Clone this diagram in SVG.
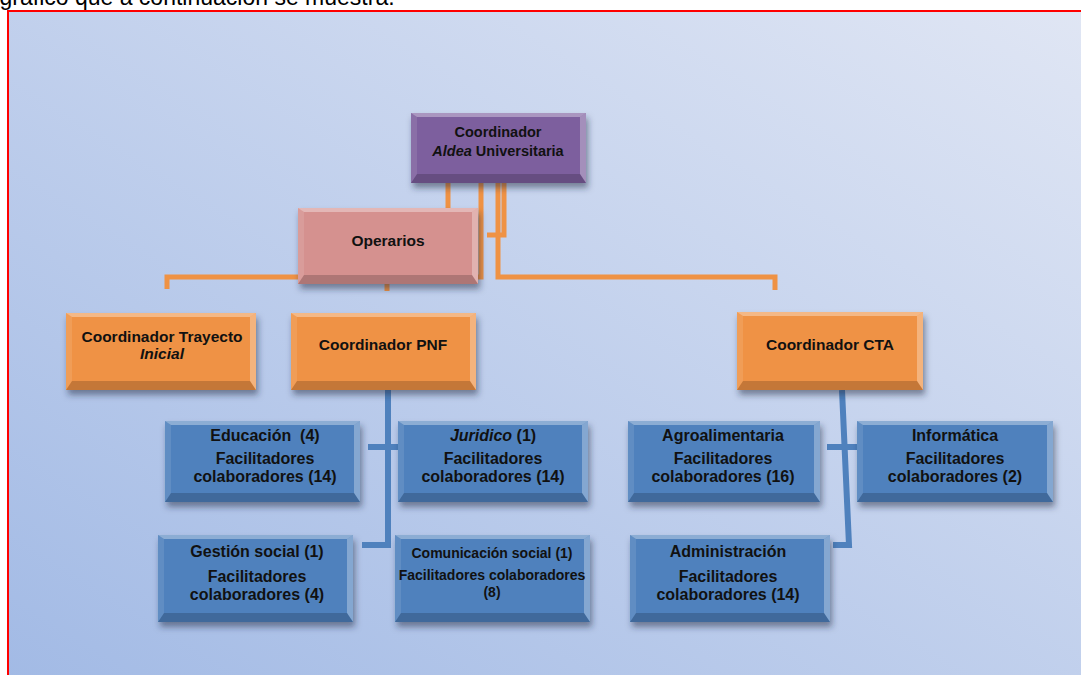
<svg xmlns="http://www.w3.org/2000/svg" width="1081" height="675" viewBox="0 0 1081 675">
<defs>
<linearGradient id="bg" x1="0" y1="1" x2="1" y2="0">
<stop offset="0" stop-color="#a2bae5"/>
<stop offset="1" stop-color="#e0e6f4"/>
</linearGradient>
<filter id="sh" x="-10%" y="-10%" width="125%" height="140%">
<feDropShadow dx="2" dy="5" stdDeviation="3" flood-color="#1a2540" flood-opacity="0.5"/>
</filter>
<style>
.t{font-family:"Liberation Sans",Arial,sans-serif;font-weight:bold;fill:#111;text-anchor:middle}
.s14{font-size:14.5px}
.s15{font-size:15.5px}
.s16{font-size:16px}
.s13{font-size:14px}
.i{font-style:italic}
.purple{fill:#7d5f9e}
.pink{fill:#d5918f}
.orange{fill:#ef9244}
.blue{fill:#4f81bd}
.bt{fill:#fff;opacity:.35}
.br{fill:#fff;opacity:.3}
.bb{fill:#000;opacity:.18}
.bl{fill:#fff;opacity:.1}
.co{fill:none;stroke:#ef9244;stroke-width:5}
.cb{fill:none;stroke:#4f81bd;stroke-width:6}
</style>
</defs>
<rect x="0" y="0" width="1081" height="675" fill="#fff"/>
<text x="-0.5" y="5" style="font-family:'Liberation Sans',Arial,sans-serif;font-size:23px;fill:#000">gráfico que a continuación se muestra.</text>
<rect x="8" y="11" width="1080" height="670" fill="url(#bg)" stroke="#f00" stroke-width="2"/>

<g id="connectors">
<path class="co" d="M448,183V208"/>
<path class="co" d="M167,289V277H481V183"/>
<path class="co" d="M498,183V277H775V290"/>
<path class="co" d="M504,183V235H487"/>
<path class="co" d="M387,284V291"/>
<path class="cb" d="M388,390V545H362"/>
<path class="cb" d="M368,447H400"/>
<path class="cb" d="M842,390L849,545H833"/>
<path class="cb" d="M827,447H860"/>
</g>

<g id="n-aldea">
<rect class="purple" x="411" y="113" width="175" height="70" filter="url(#sh)"/>
<path class="bt" d="M411,113H586L580,117H417Z"/>
<path class="br" d="M586,113V183L580,174V117Z"/>
<path class="bb" d="M411,183H586L580,174H417Z"/>
<path class="bl" d="M411,113V183L417,174V117Z"/>
<text class="t s14" x="498" y="137">Coordinador</text>
<text class="t s14" x="498" y="156"><tspan class="i">Aldea</tspan> Universitaria</text>
</g>

<g id="n-operarios">
<rect class="pink" x="298" y="208" width="180" height="76" filter="url(#sh)"/>
<path class="bt" d="M298,208H478L472,212H304Z"/>
<path class="br" d="M478,208V284L472,275V212Z"/>
<path class="bb" d="M298,284H478L472,275H304Z"/>
<path class="bl" d="M298,208V284L304,275V212Z"/>
<text class="t s15" x="388" y="246">Operarios</text>
</g>

<g id="n-trayecto">
<rect class="orange" x="66" y="313" width="190" height="77" filter="url(#sh)"/>
<path class="bt" d="M66,313H256L250,317H72Z"/>
<path class="br" d="M256,313V390L250,381V317Z"/>
<path class="bb" d="M66,390H256L250,381H72Z"/>
<path class="bl" d="M66,313V390L72,381V317Z"/>
<text class="t s15" x="162" y="342">Coordinador Trayecto</text>
<text class="t s15 i" x="162" y="359">Inicial</text>
</g>

<g id="n-pnf">
<rect class="orange" x="291" y="313" width="185" height="77" filter="url(#sh)"/>
<path class="bt" d="M291,313H476L470,317H297Z"/>
<path class="br" d="M476,313V390L470,381V317Z"/>
<path class="bb" d="M291,390H476L470,381H297Z"/>
<path class="bl" d="M291,313V390L297,381V317Z"/>
<text class="t s15" x="383" y="350">Coordinador PNF</text>
</g>

<g id="n-cta">
<rect class="orange" x="737" y="312" width="186" height="78" filter="url(#sh)"/>
<path class="bt" d="M737,312H923L917,316H743Z"/>
<path class="br" d="M923,312V390L917,381V316Z"/>
<path class="bb" d="M737,390H923L917,381H743Z"/>
<path class="bl" d="M737,312V390L743,381V316Z"/>
<text class="t s15" x="830" y="350">Coordinador CTA</text>
</g>

<g id="n-educacion">
<rect class="blue" x="165" y="421" width="195" height="81" filter="url(#sh)"/>
<path class="bt" d="M165,421H360L354,425H171Z"/>
<path class="br" d="M360,421V502L354,493V425Z"/>
<path class="bb" d="M165,502H360L354,493H171Z"/>
<path class="bl" d="M165,421V502L171,493V425Z"/>
<text class="t s16" x="265" y="441" xml:space="preserve">Educación  (4)</text>
<text class="t s16" x="265" y="464">Facilitadores</text>
<text class="t s16" x="265" y="482">colaboradores (14)</text>
</g>

<g id="n-juridico">
<rect class="blue" x="398" y="421" width="190" height="81" filter="url(#sh)"/>
<path class="bt" d="M398,421H588L582,425H404Z"/>
<path class="br" d="M588,421V502L582,493V425Z"/>
<path class="bb" d="M398,502H588L582,493H404Z"/>
<path class="bl" d="M398,421V502L404,493V425Z"/>
<text class="t s16" x="493" y="441"><tspan class="i">Juridico</tspan> (1)</text>
<text class="t s16" x="493" y="464">Facilitadores</text>
<text class="t s16" x="493" y="482">colaboradores (14)</text>
</g>

<g id="n-gestion">
<rect class="blue" x="158" y="535" width="195" height="87" filter="url(#sh)"/>
<path class="bt" d="M158,535H353L347,539H164Z"/>
<path class="br" d="M353,535V622L347,613V539Z"/>
<path class="bb" d="M158,622H353L347,613H164Z"/>
<path class="bl" d="M158,535V622L164,613V539Z"/>
<text class="t s16" x="257" y="557">Gestión social (1)</text>
<text class="t s16" x="257" y="582">Facilitadores</text>
<text class="t s16" x="257" y="600">colaboradores (4)</text>
</g>

<g id="n-comunicacion">
<rect class="blue" x="395" y="535" width="195" height="87" filter="url(#sh)"/>
<path class="bt" d="M395,535H590L584,539H401Z"/>
<path class="br" d="M590,535V622L584,613V539Z"/>
<path class="bb" d="M395,622H590L584,613H401Z"/>
<path class="bl" d="M395,535V622L401,613V539Z"/>
<text class="t s13" x="492" y="558">Comunicación social (1)</text>
<text class="t s13" x="492" y="580">Facilitadores colaboradores</text>
<text class="t s13" x="492" y="597">(8)</text>
</g>

<g id="n-agro">
<rect class="blue" x="628" y="421" width="192" height="81" filter="url(#sh)"/>
<path class="bt" d="M628,421H820L814,425H634Z"/>
<path class="br" d="M820,421V502L814,493V425Z"/>
<path class="bb" d="M628,502H820L814,493H634Z"/>
<path class="bl" d="M628,421V502L634,493V425Z"/>
<text class="t s16" x="723" y="441">Agroalimentaria</text>
<text class="t s16" x="723" y="464">Facilitadores</text>
<text class="t s16" x="723" y="482">colaboradores (16)</text>
</g>

<g id="n-informatica">
<rect class="blue" x="857" y="421" width="196" height="81" filter="url(#sh)"/>
<path class="bt" d="M857,421H1053L1047,425H863Z"/>
<path class="br" d="M1053,421V502L1047,493V425Z"/>
<path class="bb" d="M857,502H1053L1047,493H863Z"/>
<path class="bl" d="M857,421V502L863,493V425Z"/>
<text class="t s16" x="955" y="441">Informática</text>
<text class="t s16" x="955" y="464">Facilitadores</text>
<text class="t s16" x="955" y="482">colaboradores (2)</text>
</g>

<g id="n-administracion">
<rect class="blue" x="630" y="535" width="200" height="87" filter="url(#sh)"/>
<path class="bt" d="M630,535H830L824,539H636Z"/>
<path class="br" d="M830,535V622L824,613V539Z"/>
<path class="bb" d="M630,622H830L824,613H636Z"/>
<path class="bl" d="M630,535V622L636,613V539Z"/>
<text class="t s16" x="728" y="557">Administración</text>
<text class="t s16" x="728" y="582">Facilitadores</text>
<text class="t s16" x="728" y="600">colaboradores (14)</text>
</g>
</svg>
